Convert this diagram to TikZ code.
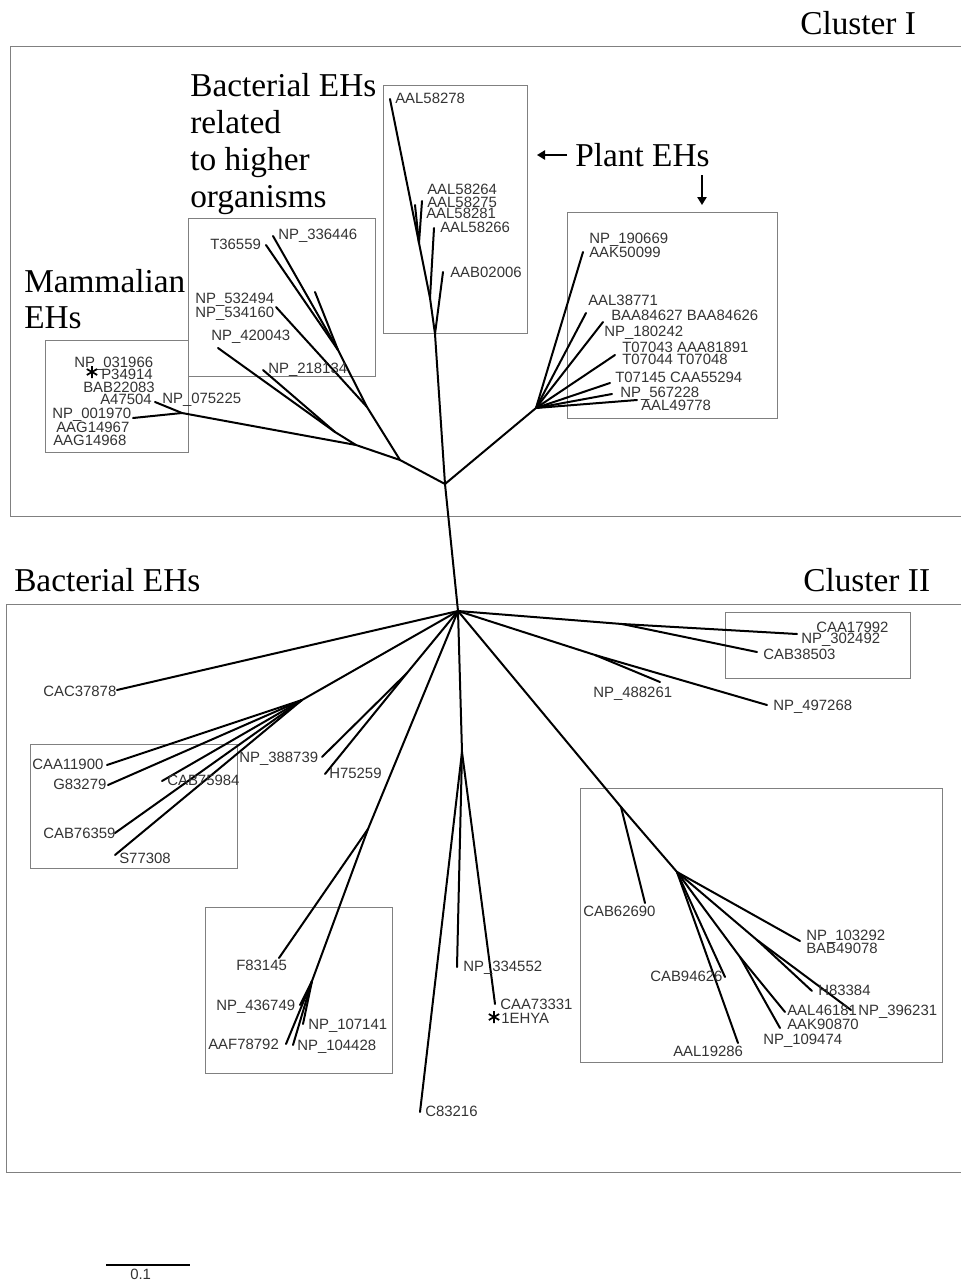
\documentclass[tikz,border=0pt]{standalone}
\usepackage{fontspec}
\setmainfont{Liberation Serif}
\setsansfont{Liberation Sans}
\usetikzlibrary{arrows.meta}
\tikzstyle{branch}=[line width=1.5pt,line cap=round,line join=round]
\tikzstyle{leaf}=[font=\sffamily\fontsize{11.2}{12}\selectfont,text=black!80,
  inner sep=0pt,anchor=west,text height=8pt,text depth=0pt]
\tikzstyle{heading}=[font=\fontsize{25}{28}\selectfont,inner sep=0pt,anchor=base west]
\tikzstyle{group}=[draw=black!50,line width=0.75pt]
\tikzstyle{pointer}=[line width=1.2pt,-{Triangle[length=6pt,width=7pt]}]
\newcommand{\ehstar}[1]{%
  \draw[line width=1.3pt] (#1) ++(0,-6) -- ++(0,12)
    (#1) ++(-5.2,-3) -- ++(10.4,6) (#1) ++(-5.2,3) -- ++(10.4,-6);}

\begin{document}
\begin{tikzpicture}[x=0.75pt,y=-0.75pt]
  \useasboundingbox (0,0) rectangle (960,1281);

  % cluster frames and group boxes
  \draw[group] (10,47) rectangle (975,516);
  \draw[group] (6,604) rectangle (975,1172);
  \draw[group] (383,86) rectangle (527,333);
  \draw[group] (567,212) rectangle (777,418);
  \draw[group] (188,218) rectangle (375,376);
  \draw[group] (45,340) rectangle (188,452);
  \draw[group] (30,744) rectangle (237,868);
  \draw[group] (205,907) rectangle (392,1073);
  \draw[group] (725,612) rectangle (910,678);
  \draw[group] (580,788) rectangle (942,1062);

  % tree: inner nodes and tips
  \foreach \n/\x/\y in {A/445/484, B/458/611,
    a1/435/334, a2/430/298, a3/419/243, aab02006/443/272, aal58266/434/228,
    aal58278/390/99, aal58264/415/205, aal58275/422/201,
    P/536/408, np190669/583/252, aal38771/586/313, baa84627/603/322,
    t07044/615/355, t07145/610/383, np567228/612/394, aal49778/637/400,
    L1/400/460, b1/367/407, b2/338/350, t36559/266/245, np336446/273/236,
    b2x/315/292, np534160/276/307,
    L2/356/445, b3/335/432, np420043/218/348, np218134/263/370,
    m1/182/413, np001970/133/418, a47504/155/402,
    c1/622/624, caa17992/797/634, cab38503/757/652,
    c2/595/655, np488261/660/682, np497268/767/705,
    d1/621/807, cab62690/645/903, d2/677/872, np103292/800/941,
    d3/757/940, h83384/812/991, np396231/851/1010,
    d4/740/957, aal46181/785/1012, aak90870/780/1028,
    cab94626/725/977, aal19286/738/1043,
    e1/462/752, np334552/457/967, caa73331/495/1004, c83216/420/1112,
    f1/368/829, f83145/279/958, f2/312/981, np436749/300/1005,
    np107141/303/1024, aaf78792/286/1044, np104428/293/1045,
    g1/407/673, np388739/322/757, h75259/325/774,
    h1/302/700, caa11900/107/765, g83279/108/785, cab75984/162/781,
    cab76359/115/833, s77308/115/855, cac37878/117/690}
    \coordinate (\n) at (\x,\y);

  \foreach \from/\to in {B/A, A/a1, a1/aab02006, a1/a2, a2/aal58266, a2/a3,
    a3/aal58278, a3/aal58264, a3/aal58275,
    A/P, P/np190669, P/aal38771, P/baa84627, P/t07044, P/t07145,
    P/np567228, P/aal49778,
    A/L1, L1/b1, b1/b2, b2/t36559, b2/np336446, b2/b2x, b1/np534160,
    L1/L2, L2/b3, b3/np420043, b3/np218134, L2/m1, m1/np001970, m1/a47504,
    B/c1, c1/caa17992, c1/cab38503, B/c2, c2/np488261, c2/np497268,
    B/d1, d1/cab62690, d1/d2, d2/np103292, d2/d3, d3/h83384, d3/np396231,
    d2/d4, d4/aal46181, d4/aak90870, d2/cab94626, d2/aal19286,
    B/e1, e1/np334552, e1/caa73331, e1/c83216,
    B/f1, f1/f83145, f1/f2, f2/np436749, f2/np107141, f2/aaf78792, f2/np104428,
    B/g1, g1/np388739, g1/h75259,
    B/h1, h1/caa11900, h1/g83279, h1/cab75984, h1/cab76359, h1/s77308,
    B/cac37878}
    \draw[branch] (\from) -- (\to);

  % sequence labels
  \foreach \n/\x/\y/\t in {l1/395/98/AAL58278, l2/427/189/AAL58264,
    l3/427/202/AAL58275, l4/426/213/AAL58281, l5/440/227/AAL58266,
    l6/450/272/AAB02006,
    l7/589/238/NP\_190669, l8/589/252/AAK50099, l9/588/300/AAL38771,
    l10/611/315/BAA84627 BAA84626, l11/604/331/NP\_180242,
    l12/622/347/T07043 AAA81891, l13/622/359/T07044 T07048,
    l14/615/377/T07145 CAA55294, l15/620/392/NP\_567228, l16/641/405/AAL49778,
    l17/210/244/T36559, l18/278/234/NP\_336446, l19/195/298/NP\_532494,
    l20/195/312/NP\_534160, l21/211/335/NP\_420043, l22/268/368/NP\_218134,
    l23/74/362/NP\_031966, l24/101/374/P34914, l25/83/387/BAB22083,
    l26/100/399/A47504, l27/162/398/NP\_075225, l28/52/413/NP\_001970,
    l29/56/427/AAG14967, l30/53/440/AAG14968,
    l31/43/691/CAC37878, l32/32/764/CAA11900, l33/53/784/G83279,
    l34/167/780/CAB75984, l35/43/833/CAB76359, l36/119/858/S77308,
    l37/239/757/NP\_388739, l38/329/773/H75259,
    l39/816/627/CAA17992, l40/801/638/NP\_302492, l41/763/654/CAB38503,
    l42/593/692/NP\_488261, l43/773/705/NP\_497268,
    l44/583/911/CAB62690, l45/806/935/NP\_103292, l46/806/948/BAB49078,
    l47/650/976/CAB94626, l48/818/990/H83384, l49/787/1010/AAL46181,
    l50/858/1010/NP\_396231, l51/787/1024/AAK90870, l52/763/1039/NP\_109474,
    l53/673/1051/AAL19286,
    l54/463/966/NP\_334552, l55/500/1004/CAA73331, l56/501/1018/1EHYA,
    l57/236/965/F83145, l58/216/1005/NP\_436749, l59/308/1024/NP\_107141,
    l60/208/1044/AAF78792, l61/297/1045/NP\_104428, l62/425/1111/C83216}
    \node[leaf] (\n) at (\x,\y) {\t};

  \coordinate (star1) at (92,372);
  \coordinate (star2) at (494,1017);
  \ehstar{star1}
  \ehstar{star2}

  % group headings
  \node[heading] (clusterI) at (800,35) {Cluster I};
  \node[heading] (bact1) at (190,96) {Bacterial EHs};
  \node[heading] (bact2) at (190,133) {related};
  \node[heading] (bact3) at (190,170) {to higher};
  \node[heading] (bact4) at (190,207) {organisms};
  \node[heading] (mamm1) at (24,292) {Mammalian};
  \node[heading] (mamm2) at (24,328) {EHs};
  \node[heading] (plant) at (575,166) {Plant EHs};
  \node[heading] (bactII) at (14,591) {Bacterial EHs};
  \node[heading] (clusterII) at (803,591) {Cluster II};
  \coordinate (arrW0) at (567,155);
  \coordinate (arrW1) at (537,155);
  \coordinate (arrS0) at (702,175);
  \coordinate (arrS1) at (702,205);
  \draw[pointer] (arrW0) -- (arrW1);
  \draw[pointer] (arrS0) -- (arrS1);

  % scale bar
  \coordinate (bar0) at (106,1265);
  \coordinate (bar1) at (190,1265);
  \draw[line width=1.1pt] (bar0) -- (bar1);
  \node[leaf] (barlabel) at (130,1274) {0.1};
\end{tikzpicture}
\end{document}
